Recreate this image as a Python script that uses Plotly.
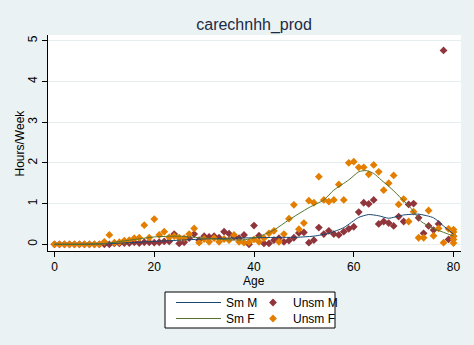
import plotly.graph_objects as go

# ---- data ----
ages = list(range(0, 81))
unsm_m = [0]*10 + [0.0, 0.0, 0.02, 0.02, 0.03, 0.03, 0.05, 0.03, 0.05, 0.05,
                   0.04, 0.05, 0.07, 0.07, 0.25, 0.02, 0.05, 0.15, 0.25, 0.10,
                   0.20, 0.18, 0.20, 0.16, 0.31, 0.26, 0.18, 0.15, 0.23, 0.00,
                   0.46, 0.21, 0.02, 0.02, 0.10, 0.15, 0.06, 0.09, 0.16, 0.28,
                   0.29, 0.04, 0.10, 0.41, 0.25, 0.33, 0.25, 0.23, 0.31, 0.38,
                   0.43, 0.79, 1.02, 0.99, 1.09, 0.50, 0.56, 0.52, 0.45, 0.68,
                   0.56, 0.98, 1.00, 0.65, 0.27, 0.45, 0.35, 0.50, 4.76, 0.12,
                   0.20]
unsm_f = [0]*10 + [0.06, 0.23, 0.04, 0.05, 0.09, 0.10, 0.15, 0.16, 0.47, 0.16,
                   0.62, 0.23, 0.31, 0.17, 0.20, 0.16, 0.15, 0.25, 0.39, 0.04,
                   0.13, 0.06, 0.15, 0.06, 0.13, 0.10, 0.23, 0.06, 0.04, 0.05,
                   0.12, 0.06, 0.15, 0.27, 0.33, 0.06, 0.25, 0.63, 0.97, 0.37,
                   0.52, 1.07, 1.02, 1.66, 1.09, 1.05, 1.09, 1.47, 1.09, 2.00,
                   2.03, 1.89, 1.89, 1.72, 1.95, 1.78, 1.33, 1.50, 1.69, 0.98,
                   1.11, 0.56, 0.80, 0.16, 0.16, 0.83, 0.21, 0.39, 0.04, 0.38,
                   0.30]
extra_f_ages = [80, 80, 80, 80]
extra_f_vals = [0.36, 0.20, 0.12, 0.03]

sm_m_ages = [0, 5, 10, 15, 20, 25, 30, 35, 40, 45, 48, 52, 55, 58, 61, 63, 65, 67, 70, 73, 76, 78, 80]
sm_m_vals = [0, 0, 0.01, 0.04, 0.07, 0.10, 0.13, 0.15, 0.16, 0.17, 0.17, 0.20, 0.27, 0.41, 0.66, 0.73, 0.70, 0.64, 0.72, 0.74, 0.65, 0.45, 0.25]
sm_f_ages = [0, 5, 10, 15, 20, 25, 30, 35, 38, 41, 44, 47, 51, 54, 56, 59, 61, 62.5, 64, 65.5, 67.5, 69.5, 71.5, 73.5, 76, 78.5, 80]
sm_f_vals = [0, 0, 0.02, 0.10, 0.18, 0.20, 0.15, 0.11, 0.11, 0.19, 0.35, 0.60, 0.90, 1.09, 1.33, 1.58, 1.78, 1.81, 1.74, 1.58, 1.37, 1.13, 0.88, 0.56, 0.39, 0.27, 0.20]

x_ticks = [0, 20, 40, 60, 80]
y_ticks = [0, 1, 2, 3, 4, 5]

NAVY = '#1A476F'
MAROON = '#90353B'
GREEN = '#55752F'
ORANGE = '#E37E00'
BG = '#EAF2F3'
FONT = 'Liberation Sans, Arial, sans-serif'

fig = go.Figure()
fig.add_trace(go.Scatter(x=ages, y=unsm_m, mode='markers', name='Unsm M',
                         marker=dict(symbol='diamond', size=6, color=MAROON),
                         legend='legend3'))
fig.add_trace(go.Scatter(x=ages + extra_f_ages, y=unsm_f + extra_f_vals, mode='markers', name='Unsm F',
                         marker=dict(symbol='diamond', size=6, color=ORANGE),
                         legend='legend4'))
fig.add_trace(go.Scatter(x=sm_m_ages, y=sm_m_vals, mode='lines', name='Sm M',
                         line=dict(color=NAVY, width=1, shape='spline', smoothing=0.6),
                         legend='legend'))
fig.add_trace(go.Scatter(x=sm_f_ages, y=sm_f_vals, mode='lines', name='Sm F',
                         line=dict(color=GREEN, width=1, shape='spline', smoothing=0.6),
                         legend='legend2'))

L, R, T, B = 48, 13, 35, 94
W, H = 474, 345
pw = W - L - R
ph = H - T - B

def px2paper_x(px):
    return (px - L) / pw

def py2paper_y(py):
    return (H - B - py) / ph

legend_common = dict(bgcolor='rgba(0,0,0,0)', borderwidth=0, orientation='v',
                     font=dict(family=FONT, size=12, color='#000000'),
                     xanchor='left', yanchor='top', tracegroupgap=0)

axis_title_font = dict(family=FONT, size=12, color='#000000')

fig.update_layout(
    width=W, height=H,
    margin=dict(l=L, r=R, t=T, b=B, autoexpand=False),
    paper_bgcolor=BG, plot_bgcolor='#FFFFFF',
    title=dict(text='carechnhh_prod', x=0.536, xanchor='center', y=1 - 24/H, yanchor='middle',
               font=dict(family=FONT, size=16, color='#1E2A44')),
    xaxis=dict(range=[-1.3, 81.5], tickvals=x_ticks, ticks='outside', ticklen=5, tickcolor='#000000',
               showline=True, linecolor='#000000', linewidth=1, showgrid=False, zeroline=False,
               tickfont=dict(family=FONT, size=12, color='#000000')),
    yaxis=dict(range=[-0.165, 5.14], tickvals=y_ticks, ticks='outside', ticklen=5, tickcolor='#000000',
               tickangle=-90, showline=True, linecolor='#000000', linewidth=1,
               showgrid=True, gridcolor='#E6EEF0', gridwidth=1, zeroline=False,
               tickfont=dict(family=FONT, size=12, color='#000000')),
    annotations=[
        dict(text='Age', xref='paper', yref='paper', x=px2paper_x(254), y=py2paper_y(281),
             xanchor='center', yanchor='middle', showarrow=False, font=axis_title_font),
        dict(text='Hours/Week', xref='paper', yref='paper', x=px2paper_x(19.5), y=0.5,
             xanchor='center', yanchor='middle', showarrow=False, textangle=-90, font=axis_title_font),
    ],
    legend=dict(x=px2paper_x(171), y=py2paper_y(288), itemwidth=45, **legend_common),
    legend2=dict(x=px2paper_x(171), y=py2paper_y(304), itemwidth=45, **legend_common),
    legend3=dict(x=px2paper_x(253), y=py2paper_y(288), **legend_common),
    legend4=dict(x=px2paper_x(253), y=py2paper_y(304), **legend_common),
    shapes=[dict(type='rect', xref='paper', yref='paper',
                 x0=px2paper_x(165), x1=px2paper_x(335), y0=py2paper_y(292), y1=py2paper_y(328),
                 line=dict(color='#000000', width=1), fillcolor='#FFFFFF', layer='below')],
    showlegend=True,
)

fig.write_html('out.html')
